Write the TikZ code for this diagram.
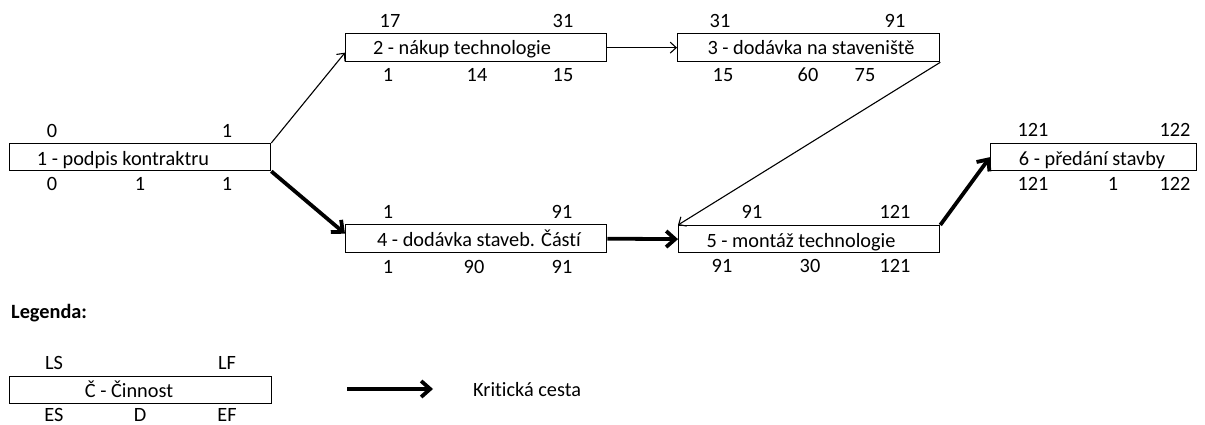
\documentclass[tikz,border=0pt]{standalone}
\usepackage{fontspec}
\setmainfont{Carlito}[Ligatures=NoCommon]
\usetikzlibrary{arrows.meta}
\newcommand{\fsz}{\fontsize{20.3}{24}\selectfont}
\tikzset{
  box/.style={draw, line width=1.3pt, inner sep=0pt, anchor=north west, minimum height=27pt},
  num/.style={anchor=base, inner sep=0pt, font=\fsz},
  lbl/.style={anchor=base, inner sep=0pt, font=\fsz},
  thin/.style={line width=1.1pt, -{Straight Barb[length=6pt,width=11pt]}},
  thick/.style={line width=3.8pt, -{Straight Barb[length=9pt,width=16pt]}}
}
\begin{document}
\begin{tikzpicture}[x=1pt,y=-1pt]
\fill[white] (0,0) rectangle (1205,425);
\useasboundingbox (0,0) rectangle (1205,425);

% boxes
\node[box, minimum width=261pt] (b1) at (9,143) {};
\node[box, minimum width=261pt, minimum height=28pt] (b2) at (345,33) {};
\node[box, minimum width=262pt, minimum height=28pt] (b3) at (677,33) {};
\node[box, minimum width=261pt, minimum height=28pt] (b4) at (345,224) {};
\node[box, minimum width=261pt] (b5) at (678,225) {};
\node[box, minimum width=206pt] (b6) at (990,143) {};
\node[box, minimum width=262pt] (bl) at (9,376) {};

% box texts
\node[lbl] (t1) at (123,165) {1 - podpis kontraktru};
\node[lbl] (t2) at (462,55) {2 - nákup technologie};
\node[lbl] (t3) at (811,55) {3 - dodávka na staveniště};
\node[lbl] (t4) at (479,246) {4 - dodávka staveb. Částí};
\node[lbl] (t5) at (801,247) {5 - montáž technologie};
\node[lbl] (t6) at (1092,165) {6 - předání stavby};
\node[lbl] (tl) at (129,397) {Č - Činnost};

% numbers box 1
\node[num] (n1a) at (52,138) {0};
\node[num] (n1b) at (227,138) {1};
\node[num] (n1c) at (52,190) {0};
\node[num] (n1d) at (140,190) {1};
\node[num] (n1e) at (227,190) {1};
% box 2
\node[num] (n2a) at (390,28) {17};
\node[num] (n2b) at (563,28) {31};
\node[num] (n2c) at (388,82) {1};
\node[num] (n2d) at (477,82) {14};
\node[num] (n2e) at (563,82) {15};
% box 3
\node[num] (n3a) at (720,28) {31};
\node[num] (n3b) at (895,28) {91};
\node[num] (n3c) at (723,82) {15};
\node[num] (n3d) at (808,82) {60};
\node[num] (n3e) at (865,82) {75};
% box 4
\node[num] (n4a) at (388,218) {1};
\node[num] (n4b) at (562,218) {91};
\node[num] (n4c) at (388,273) {1};
\node[num] (n4d) at (474,273) {90};
\node[num] (n4e) at (562,273) {91};
% box 5
\node[num] (n5a) at (752,218) {91};
\node[num] (n5b) at (895,218) {121};
\node[num] (n5c) at (722,272) {91};
\node[num] (n5d) at (810,272) {30};
\node[num] (n5e) at (895,272) {121};
% box 6
\node[num] (n6a) at (1033,137) {121};
\node[num] (n6b) at (1175,137) {122};
\node[num] (n6c) at (1033,190) {121};
\node[num] (n6d) at (1113,190) {1};
\node[num] (n6e) at (1175,190) {122};
% legend box
\node[num] (nla) at (54,369) {LS};
\node[num] (nlb) at (227,369) {LF};
\node[num] (nlc) at (54,421) {ES};
\node[num] (nld) at (140,421) {D};
\node[num] (nle) at (227,421) {EF};

% legend
\node[lbl, anchor=base west, font=\fsz\bfseries] (leg) at (11,318) {Legenda:};
\coordinate (la) at (347,389);
\coordinate (lb) at (433,389);
\draw[thick] (la) -- (lb);
\node[lbl, anchor=base west] (kc) at (473,396) {Kritická cesta};

% connectors
\draw[thin] (b1.north east) -- ([yshift=-5pt]b2.west);
\draw[thin] (b2.east) -- (b3.west);
\draw[thin] (b3.south east) -- (b5.north west);
\draw[thick] (b1.south east) -- ([yshift=5pt]b4.west);
\draw[thick] (b4.east) -- (b5.west);
\draw[thick] (b5.north east) -- (b6.west);
\end{tikzpicture}
\end{document}
